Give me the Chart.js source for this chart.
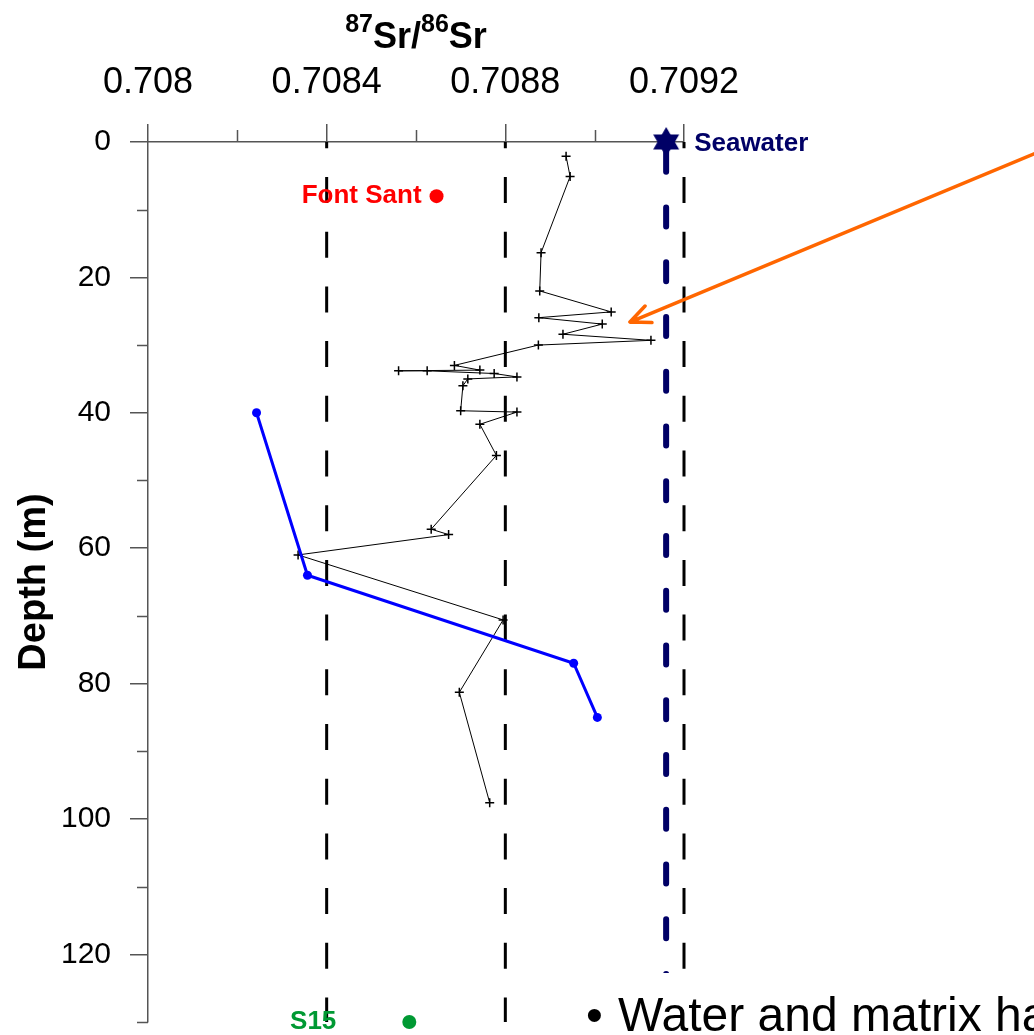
<!DOCTYPE html>
<html lang="en">
<head>
<meta charset="UTF-8">
<title>87Sr/86Sr versus depth</title>
<script src="https://cdn.jsdelivr.net/npm/chart.js"></script>
<style>
  body { margin: 0; background: #fff; }
  canvas { display: block; }
</style>
</head>
<body>
<canvas id="srChart" width="1034" height="1035"></canvas>
<script>
// axis ticks
const xMajorTicks = [0.708, 0.7084, 0.7088, 0.7092];
const xTickLabels = ['0.708', '0.7084', '0.7088', '0.7092'];
const xMinorTicks = [0.7082, 0.7086, 0.709];
const yMajorTicks = [0, 20, 40, 60, 80, 100, 120];
const yMinorTicks = [10, 30, 50, 70, 90, 110, 130];

// black profile (+ markers), in drawing order
const profileDepth = [2.1, 5.1, 16.35, 22.0, 25.1, 25.95, 26.9, 28.4, 29.3, 30.0,
  33.0, 33.7, 33.8, 33.8, 34.2, 34.7, 35.0, 36.0, 39.7, 39.9, 41.7, 46.3,
  57.2, 58.0, 61.0, 70.6, 81.3, 97.6];
const profileRatio = [0.708936, 0.708945, 0.708880, 0.708877, 0.709037, 0.708875,
  0.709017, 0.708929, 0.709126, 0.708874, 0.708686, 0.708743, 0.708561, 0.708625,
  0.708775, 0.708826, 0.708716, 0.708705, 0.708700, 0.708826, 0.708743, 0.708780,
  0.708634, 0.708673, 0.708336, 0.708795, 0.708697, 0.708765];

// blue series
const blueDepth = [40.0, 64.0, 77.0, 85.0];
const blueRatio = [0.708243, 0.708357, 0.708953, 0.709006];

// reference lines and single samples
const refLines = [0.7084, 0.7088, 0.7092];
const seawaterRatio = 0.70916;
const seawaterDepth = [0, 130];
const fontSantRatio = [0.708646];
const fontSantDepth = [8];
const s15Ratio = [0.708585];
const s15Depth = [130];

// orange arrow, data coords [ratio, depth]
const arrowFrom = [0.71, 1.3];
const arrowTo = [0.709079, 26.6];

const NAVY = '#000066';
const AXIS = '#555555';

function pts(xs, ys) {
  return xs.map((x, i) => ({ x: x, y: ys[i] }));
}

function makeStar(r, color) {
  const c = document.createElement('canvas');
  const s = Math.ceil(r * 2 + 2);
  c.width = s; c.height = s;
  const g = c.getContext('2d');
  g.fillStyle = color;
  [-90, 90].forEach(a0 => {
    g.beginPath();
    for (let k = 0; k < 3; k++) {
      const a = (a0 + k * 120) * Math.PI / 180;
      g.lineTo(s / 2 + r * Math.cos(a), s / 2 + r * Math.sin(a));
    }
    g.closePath();
    g.fill();
  });
  return c;
}

const datasets = [
  { data: pts(fontSantRatio, fontSantDepth), pointRadius: 7, pointBackgroundColor: '#ff0000',
    pointBorderWidth: 0, showLine: false, clip: false },
  { data: pts(s15Ratio, s15Depth), pointRadius: 7, pointBackgroundColor: '#009933',
    pointBorderWidth: 0, showLine: false, clip: false },
  { data: [{ x: seawaterRatio, y: 0 }], pointStyle: makeStar(15, NAVY), pointRadius: 15,
    showLine: false, clip: false },
  { data: pts(blueRatio, blueDepth), showLine: true, borderColor: '#0000ff', borderWidth: 3,
    pointRadius: 4.5, pointBackgroundColor: '#0000ff', pointBorderWidth: 0 },
  { data: pts(profileRatio, profileDepth), showLine: true, borderColor: '#000', borderWidth: 1,
    pointStyle: 'cross', pointRadius: 4.5, pointBorderColor: '#000', pointBorderWidth: 1.5 },
  { data: seawaterDepth.map(d => ({ x: seawaterRatio, y: d })), showLine: true, borderColor: NAVY,
    borderWidth: 6, borderDash: [19, 35.75], borderDashOffset: 44, borderCapStyle: 'round',
    pointRadius: 0, clip: false }
];
refLines.forEach(v => {
  datasets.push({ data: [{ x: v, y: 0 }, { x: v, y: 130 }], showLine: true, borderColor: '#000',
    borderWidth: 3, borderDash: [26, 28.7], borderDashOffset: 19.7, pointRadius: 0, clip: false });
});

const extras = {
  id: 'extras',
  afterDatasetsDraw(chart) {
    const { ctx, chartArea } = chart;
    const xs = chart.scales.x, ys = chart.scales.y;
    ctx.save();

    // minor ticks
    ctx.strokeStyle = AXIS;
    ctx.lineWidth = 1.5;
    ctx.beginPath();
    xMinorTicks.forEach(v => {
      const px = Math.round(xs.getPixelForValue(v)) + 0.5;
      ctx.moveTo(px, chartArea.top - 12);
      ctx.lineTo(px, chartArea.top);
    });
    yMinorTicks.forEach(v => {
      const py = Math.round(ys.getPixelForValue(v)) + 0.5;
      ctx.moveTo(chartArea.left - 11, py);
      ctx.lineTo(chartArea.left, py);
    });
    ctx.stroke();

    // point labels
    ctx.font = 'bold 26px "Liberation Sans", Arial, sans-serif';
    ctx.textBaseline = 'middle';
    ctx.fillStyle = NAVY;
    ctx.textAlign = 'left';
    ctx.fillText('Seawater', xs.getPixelForValue(seawaterRatio) + 28, ys.getPixelForValue(0) + 2);
    ctx.fillStyle = '#ff0000';
    ctx.textAlign = 'right';
    ctx.fillText('Font Sant', xs.getPixelForValue(fontSantRatio[0]) - 15, ys.getPixelForValue(fontSantDepth[0]));
    ctx.fillStyle = '#009933';
    ctx.fillText('S15', xs.getPixelForValue(s15Ratio[0]) - 73, ys.getPixelForValue(s15Depth[0]));

    // axis title 87Sr/86Sr
    const parts = [['87', 25, -16], ['Sr/', 36, 0], ['86', 25, -16], ['Sr', 36, 0]];
    let total = 0;
    parts.forEach(p => {
      ctx.font = 'bold ' + p[1] + 'px "Liberation Sans", Arial, sans-serif';
      total += ctx.measureText(p[0]).width;
    });
    let tx = (chartArea.left + chartArea.right) / 2 - total / 2;
    ctx.fillStyle = '#000';
    ctx.textAlign = 'left';
    ctx.textBaseline = 'alphabetic';
    parts.forEach(p => {
      ctx.font = 'bold ' + p[1] + 'px "Liberation Sans", Arial, sans-serif';
      ctx.fillText(p[0], tx, 48 + p[2]);
      tx += ctx.measureText(p[0]).width;
    });

    // slide text box at the bottom
    ctx.fillStyle = '#fff';
    ctx.fillRect(565, 973, 480, 70);
    ctx.fillStyle = '#000';
    ctx.font = '48px "Liberation Sans", Arial, sans-serif';
    ctx.fillText('\u2022', 586, 1031);
    ctx.fillText('Water and matrix have', 618, 1031);

    // orange arrow
    const x0 = xs.getPixelForValue(arrowFrom[0]), y0 = ys.getPixelForValue(arrowFrom[1]);
    const x1 = xs.getPixelForValue(arrowTo[0]), y1 = ys.getPixelForValue(arrowTo[1]);
    const ang = Math.atan2(y0 - y1, x0 - x1);
    ctx.strokeStyle = '#ff6600';
    ctx.lineWidth = 3.5;
    ctx.lineCap = 'round';
    ctx.beginPath();
    ctx.moveTo(x0, y0);
    ctx.lineTo(x1, y1);
    [-0.42, 0.42].forEach(da => {
      ctx.moveTo(x1, y1);
      ctx.lineTo(x1 + 22 * Math.cos(ang + da), y1 + 22 * Math.sin(ang + da));
    });
    ctx.stroke();
    ctx.restore();
  }
};

Chart.defaults.font.family = '"Liberation Sans", Arial, sans-serif';
Chart.defaults.color = '#000';

new Chart(document.getElementById('srChart'), {
  type: 'scatter',
  data: { datasets: datasets },
  options: {
    responsive: false,
    animation: false,
    layout: { padding: { left: 0, top: 0, right: 350, bottom: 13 }, autoPadding: false },
    plugins: { legend: { display: false }, tooltip: { enabled: false } },
    scales: {
      x: {
        type: 'linear', position: 'top', min: 0.708, max: 0.7092,
        afterBuildTicks: s => { s.ticks = xMajorTicks.map(v => ({ value: v })); },
        afterFit: s => { s.height = 142; s.paddingLeft = 0; s.paddingRight = 0; },
        ticks: { font: { size: 36, lineHeight: 1.2 }, padding: 19, autoSkip: false, maxRotation: 0,
          callback: (v, i) => xTickLabels[i] },
        grid: { drawOnChartArea: false, tickLength: 18, color: AXIS, lineWidth: 1.5 },
        border: { display: true, color: AXIS, width: 1.5 }
      },
      y: {
        type: 'linear', position: 'left', reverse: true, min: 0, max: 130,
        afterBuildTicks: s => { s.ticks = yMajorTicks.map(v => ({ value: v })); },
        afterFit: s => { s.width = 148; s.paddingTop = 0; s.paddingBottom = 0; },
        ticks: { font: { size: 30 }, padding: 19, autoSkip: false, callback: v => String(v) },
        grid: { drawOnChartArea: false, tickLength: 18, color: AXIS, lineWidth: 1.5 },
        border: { display: true, color: AXIS, width: 1.5 },
        title: { display: true, text: 'Depth (m)', font: { size: 38, weight: 'bold', lineHeight: 1.2 },
          padding: { top: 12, bottom: 0 } }
      }
    }
  },
  plugins: [extras]
});
</script>
</body>
</html>
